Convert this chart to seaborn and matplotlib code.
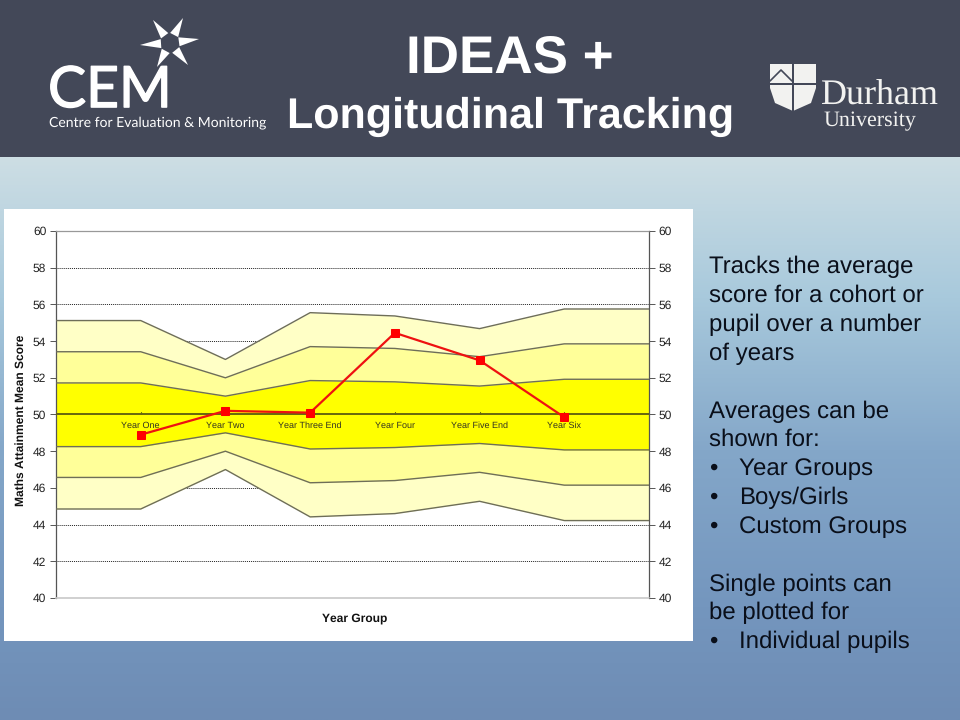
import numpy as np
import pandas as pd
import matplotlib
matplotlib.use("Agg")
import matplotlib.pyplot as plt
import matplotlib.patheffects as pe
from matplotlib.patches import Polygon, Rectangle
import seaborn as sns

# ---------- data ----------
slots = [0, 1, 2, 3, 4, 5, 6, 7]
year_slots = [1, 2, 3, 4, 5, 6]
year_labels = ["Year One", "Year Two", "Year Three End", "Year Four", "Year Five End", "Year Six"]
upper3 = [55.12, 55.12, 53.0, 55.55, 55.37, 54.68, 55.75, 55.75]
upper2 = [53.42, 53.42, 52.0, 53.7, 53.6, 53.15, 53.85, 53.85]
upper1 = [51.72, 51.72, 51.0, 51.85, 51.78, 51.55, 51.92, 51.92]
lower1 = [48.25, 48.25, 49.0, 48.12, 48.2, 48.42, 48.07, 48.07]
lower2 = [46.57, 46.57, 48.0, 46.28, 46.4, 46.85, 46.15, 46.15]
lower3 = [44.85, 44.85, 47.0, 44.42, 44.6, 45.27, 44.22, 44.22]
mean_score = [48.9, 50.2, 50.1, 54.45, 52.95, 49.85]
y_ticks = [40, 42, 44, 46, 48, 50, 52, 54, 56, 58, 60]
side_text = [
    ("Tracks the average", 273), ("score for a cohort or", 302), ("pupil over a number", 331), ("of years", 360),
    ("Averages can be", 418), ("shown for:", 446), ("•", 475), ("•", 504), ("•", 533),
    ("Single points can", 591), ("be plotted for", 619), ("•", 648),
]
bullet_text = [("Year Groups", 475), ("Boys/Girls", 504), ("Custom Groups", 533), ("Individual pupils", 648)]

sns.set_theme(style="white")
plt.rcParams["font.family"] = ["Liberation Sans", "DejaVu Sans"]
plt.rcParams["text.hinting"] = "no_hinting"
plt.rcParams["text.hinting_factor"] = 1

fig = plt.figure(figsize=(9.6, 7.2), dpi=100)

# ---------- slide background (pixel coordinates) ----------
bg = fig.add_axes([0, 0, 1, 1])
bg.set_xlim(0, 960); bg.set_ylim(720, 0); bg.axis("off")
stops = np.array([[0.0, 205, 222, 228], [0.25, 168, 201, 220], [0.52, 132, 167, 201],
                  [0.8, 116, 150, 190], [1.0, 110, 140, 180]])
t = np.linspace(0, 1, 300)
col = np.stack([np.interp(t, stops[:, 0], stops[:, i]) for i in (1, 2, 3)], axis=1)
grad = np.repeat(col[:, None, :], 2, axis=1) / 255
bg.imshow(grad, extent=(0, 960, 720, 157), aspect="auto", zorder=0)
bg.set_xlim(0, 960); bg.set_ylim(720, 0)
bg.add_patch(Rectangle((0, 0), 960, 157, color="#434858", lw=0, zorder=1))
bg.add_patch(Rectangle((4, 209), 689, 432, color="white", lw=0, zorder=1))

# title
bg.text(510, 59, "IDEAS +", color="white", fontsize=38, fontweight="bold", ha="center", va="center", zorder=3)
bg.text(511, 117, "Longitudinal Tracking", color="white", fontsize=30.9, fontweight="bold", ha="center", va="center", zorder=3)

# CEM logo
bg.text(110, 91, "CEM", color="white", fontsize=41, ha="center", va="center", zorder=3, family="Lato",
        path_effects=[pe.withStroke(linewidth=1.0, foreground="white")])
bg.text(157.5, 123, "Centre for Evaluation & Monitoring", color="white", fontsize=10, ha="center", va="center", zorder=3, family="Lato")
cx, cy = 170, 43
for tip in [(199, 39), (140, 45), (183, 18), (157, 67), (153, 20), (188, 65)]:
    v = np.array(tip, float) - (cx, cy)
    u = v / np.hypot(*v)
    n = np.array([-u[1], u[0]])
    c = np.array([cx, cy], float)
    bg.add_patch(Polygon([tip, c + u * 9 + n * 4.5, c + u * 9 - n * 4.5], color="white", lw=0, zorder=3))

# Durham logo
bg.add_patch(Polygon([(770, 64), (816, 64), (816, 88), (811, 103), (793, 111), (775, 103), (770, 88)], color="#f2f2f0", lw=0, zorder=3))
bg.add_patch(Rectangle((792, 62), 2.2, 50, color="#434858", lw=0, zorder=4))
bg.add_patch(Rectangle((768, 83), 50, 2.2, color="#434858", lw=0, zorder=4))
bg.plot([770, 781, 792], [81, 70, 81], color="#434858", lw=1.2, zorder=5)
bg.text(880, 105, "Durham", color="#f2f2f0", fontsize=26, family="Liberation Serif", ha="center", va="baseline", zorder=3)
bg.text(869.5, 126, "University", color="#f2f2f0", fontsize=16, family="Liberation Serif", ha="center", va="baseline", zorder=3)

# side text
for s, y in side_text:
    bg.text(709, y, s, color="#0a0f1a", fontsize=17.3, ha="left", va="baseline", zorder=3)
for s, y in bullet_text:
    bg.text(739, y, s, color="#0a0f1a", fontsize=17.3, ha="left", va="baseline", zorder=3)

# ---------- chart ----------
ax = fig.add_axes([56 / 960, 1 - 598 / 720, 593 / 960, 367 / 720])
ax.set_facecolor("white")
ax.set_xlim(0, 7); ax.set_ylim(40, 60)
ax.set_yticks(y_ticks)
ax.yaxis.grid(True, color="#222222", lw=0.7, ls=(0, (1, 1)), zorder=0)
ax.set_axisbelow(True)

ax.fill_between(slots, lower3, upper3, color="#ffffc6", lw=0, zorder=2)
ax.fill_between(slots, lower2, upper2, color="#ffff99", lw=0, zorder=2.1)
ax.fill_between(slots, lower1, upper1, color="#ffff00", lw=0, zorder=2.2)

band_df = pd.DataFrame({"slot": slots, "u3": upper3, "u2": upper2, "u1": upper1,
                        "l1": lower1, "l2": lower2, "l3": lower3})
for name in ["u3", "u2", "u1", "l1", "l2", "l3"]:
    sns.lineplot(data=band_df, x="slot", y=name, ax=ax, color="#6e6e58", lw=1.0, zorder=3, errorbar=None)
ax.axhline(50, color="#66660f", lw=1.4, zorder=3)

mean_df = pd.DataFrame({"slot": year_slots, "score": mean_score})
sns.lineplot(data=mean_df, x="slot", y="score", ax=ax, color="#ee1111", lw=1.6, marker="s",
             markersize=5.2, markeredgecolor="#ff0000", markerfacecolor="#ff0000", zorder=5, errorbar=None)

for s, lab in zip(year_slots, year_labels):
    ax.text(s, 49.4, lab, fontsize=6.4, color="#333322", ha="center", va="center", zorder=4)
    ax.plot([s, s], [50, 50.12], color="#66660f", lw=0.8, zorder=3)

ax.set_xticks([])
ax.set_xlabel("Year Group", fontsize=8.4, fontweight="bold", color="#111111", labelpad=11, x=0.503)
ax.set_ylabel("Maths Attainment Mean Score", fontsize=8.4, fontweight="bold", color="#111111", labelpad=5, y=0.484)
ax.tick_params(axis="y", labelsize=8.8, labelcolor="#222222", length=4, width=0.7, color="#555555", pad=3, left=True)
for side in ["left", "right"]:
    ax.spines[side].set_color("#555555"); ax.spines[side].set_linewidth(0.9); ax.spines[side].set_visible(True)
ax.spines["top"].set_color("#999999"); ax.spines["top"].set_linewidth(0.9); ax.spines["top"].set_visible(True)
ax.spines["bottom"].set_color("#c8c8c8"); ax.spines["bottom"].set_linewidth(1.2); ax.spines["bottom"].set_visible(True)

axr = ax.twinx()
axr.set_ylim(40, 60); axr.set_yticks(y_ticks); axr.grid(False)
axr.tick_params(axis="y", labelsize=8.8, labelcolor="#222222", length=4, width=0.7, color="#555555", pad=3, right=True)
for sp in axr.spines.values():
    sp.set_visible(False)

fig.savefig("out.png", dpi=100)
